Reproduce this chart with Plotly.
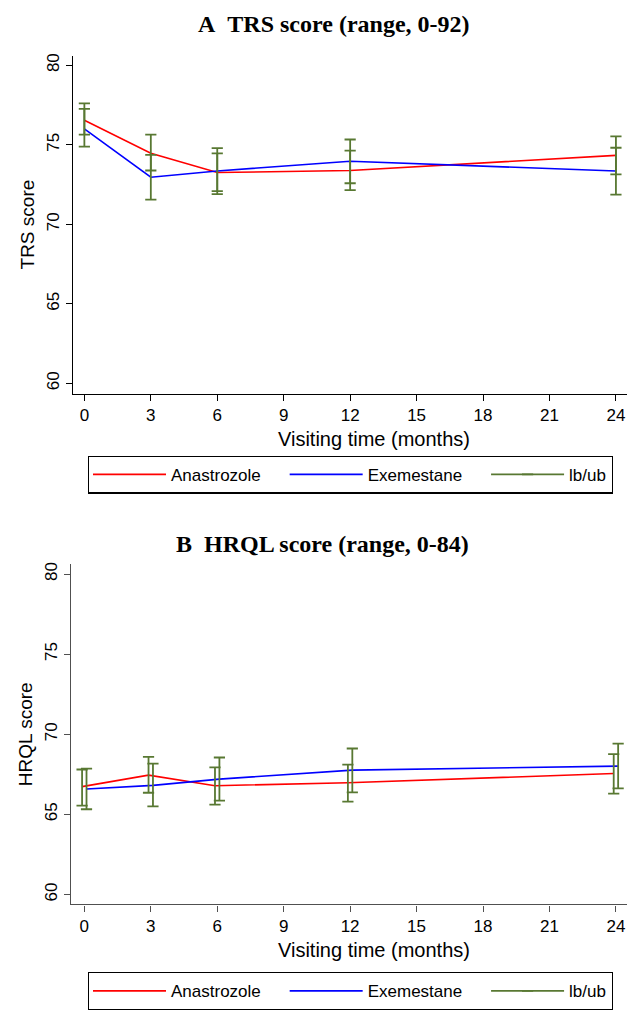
import plotly.graph_objects as go

# ---------------- data ----------------
months = [0, 3, 6, 12, 24]
x_ticks = [0, 3, 6, 9, 12, 15, 18, 21, 24]
y_ticks = [60, 65, 70, 75, 80]

trs_ana = [76.54, 74.46, 73.25, 73.38, 74.33]
trs_ana_lb = [75.63, 73.38, 72.08, 72.15, 73.14]
trs_ana_ub = [77.60, 75.63, 74.46, 74.63, 75.52]
trs_exe = [76.00, 72.96, 73.35, 73.96, 73.35]
trs_exe_lb = [74.88, 71.55, 71.89, 72.58, 71.86]
trs_exe_ub = [77.25, 74.36, 74.79, 75.33, 74.81]

hrql_ana = [66.73, 67.45, 66.79, 66.97, 67.55]
hrql_ana_lb = [65.55, 66.35, 65.61, 65.80, 66.29]
hrql_ana_ub = [67.80, 68.59, 67.93, 68.11, 68.76]
hrql_exe = [66.58, 66.81, 67.20, 67.76, 68.01]
hrql_exe_lb = [65.32, 65.50, 65.86, 66.37, 66.62]
hrql_exe_ub = [67.86, 68.17, 68.55, 69.11, 69.42]

# ---------------- styles ----------------
RED = "#FF0000"
BLUE = "#0000FF"
GREEN = "rgb(88,120,50)"
SANS = "Liberation Sans, Arial, sans-serif"
SERIF = "Liberation Serif, Times New Roman, serif"
OFFSET_B = 0.1  # small horizontal dodge used in panel B
PAD = "\u00a0" * 4  # extra spacing between legend entries


def shift(xs, d):
    return [v + d for v in xs]


def ci_segments(xs, lo, hi):
    sx, sy = [], []
    for x, a, b in zip(xs, lo, hi):
        sx += [x, x, None]
        sy += [a, b, None]
    return sx, sy


fig = go.Figure()


def add_panel(xa, ya, leg, x_ana, x_exe, ana, ana_lb, ana_ub, exe, exe_lb, exe_ub):
    fig.add_trace(go.Scatter(x=x_ana, y=ana, mode="lines", name="Anastrozole" + PAD,
                             line=dict(color=RED, width=1.6), xaxis=xa, yaxis=ya,
                             legend=leg))
    fig.add_trace(go.Scatter(x=x_exe, y=exe, mode="lines", name="Exemestane" + PAD,
                             line=dict(color=BLUE, width=1.6), xaxis=xa, yaxis=ya,
                             legend=leg))
    first = True
    for xs, lo, hi in ((x_ana, ana_lb, ana_ub), (x_exe, exe_lb, exe_ub)):
        sx, sy = ci_segments(xs, lo, hi)
        fig.add_trace(go.Scatter(
            x=sx, y=sy, mode="lines+markers", name="lb/ub",
            line=dict(color=GREEN, width=1.8),
            marker=dict(symbol="line-ew", size=8, color=GREEN,
                        line=dict(width=1.8, color=GREEN)),
            xaxis=xa, yaxis=ya, legend=leg, legendgroup=leg + "ci",
            showlegend=first))
        first = False


add_panel("x", "y", "legend", months, months,
          trs_ana, trs_ana_lb, trs_ana_ub, trs_exe, trs_exe_lb, trs_exe_ub)
add_panel("x2", "y2", "legend2", shift(months, -OFFSET_B), shift(months, OFFSET_B),
          hrql_ana, hrql_ana_lb, hrql_ana_ub, hrql_exe, hrql_exe_lb, hrql_exe_ub)

W, H = 630, 1010


def px_x(p):
    return p / W


def px_y(p):
    return 1 - p / H


def xaxis_style(domain, rng, color):
    return dict(domain=domain, range=rng, tickvals=x_ticks, showgrid=False,
                zeroline=False, showline=True, linecolor=color, linewidth=1.3,
                ticks="outside", ticklen=6, tickwidth=1.2, tickcolor=color,
                tickfont=dict(family=SANS, size=17, color="black"))


def yaxis_style(domain, rng, color, title, anchor):
    return dict(domain=domain, range=rng, tickvals=y_ticks, showgrid=False,
                zeroline=False, showline=True, linecolor=color, linewidth=1.3,
                ticks="outside", ticklen=6, tickwidth=1.2, tickcolor=color,
                tickangle=-90, anchor=anchor,
                tickfont=dict(family=SANS, size=17, color="black"),
                title=dict(text=title, font=dict(family=SANS, size=19, color="black"),
                           standoff=4))


def legend_style(top):
    return dict(orientation="h", x=px_x(88), xanchor="left", y=px_y(top),
                yanchor="top", bordercolor="black", borderwidth=1.3,
                font=dict(family=SANS, size=17, color="black"),
                itemwidth=73, bgcolor="white")


fig.update_layout(
    width=W, height=H,
    margin=dict(l=0, r=0, t=0, b=0),
    paper_bgcolor="white", plot_bgcolor="white",
    font=dict(family=SANS, size=17, color="black"),
    xaxis=dict(**xaxis_style([px_x(73.3), px_x(627)], [-0.5, 24.5], "black"), anchor="y"),
    yaxis=yaxis_style([px_y(394.3), px_y(54)], [59.36, 80.6], "black", "TRS score", "x"),
    xaxis2=dict(**xaxis_style([px_x(71), px_x(627)], [-0.6, 24.5], "#505050"), anchor="y2"),
    yaxis2=yaxis_style([px_y(908.7), px_y(566)], [59.38, 80.62], "#505050", "HRQL score", "x2"),
    legend=legend_style(456.7),
    legend2=legend_style(977),
    annotations=[
        dict(text="<b>A\u00a0\u00a0TRS score (range, 0-92)</b>", x=px_x(333.5), y=px_y(22),
             xref="paper", yref="paper", showarrow=False, xanchor="center", yanchor="middle",
             font=dict(family=SERIF, size=24, color="black")),
        dict(text="<b>B\u00a0\u00a0HRQL score (range, 0-84)</b>", x=px_x(322), y=px_y(546),
             xref="paper", yref="paper", showarrow=False, xanchor="center", yanchor="middle",
             font=dict(family=SERIF, size=24, color="black")),
        dict(text="Visiting time (months)", x=px_x(374), y=px_y(440),
             xref="paper", yref="paper", showarrow=False, xanchor="center", yanchor="middle",
             font=dict(family=SANS, size=20, color="black")),
        dict(text="Visiting time (months)", x=px_x(374), y=px_y(955),
             xref="paper", yref="paper", showarrow=False, xanchor="center", yanchor="middle",
             font=dict(family=SANS, size=20, color="black")),
    ],
)

fig.write_html("out.html", config={"displayModeBar": False},
               post_script="document.body.style.margin='0px';")
